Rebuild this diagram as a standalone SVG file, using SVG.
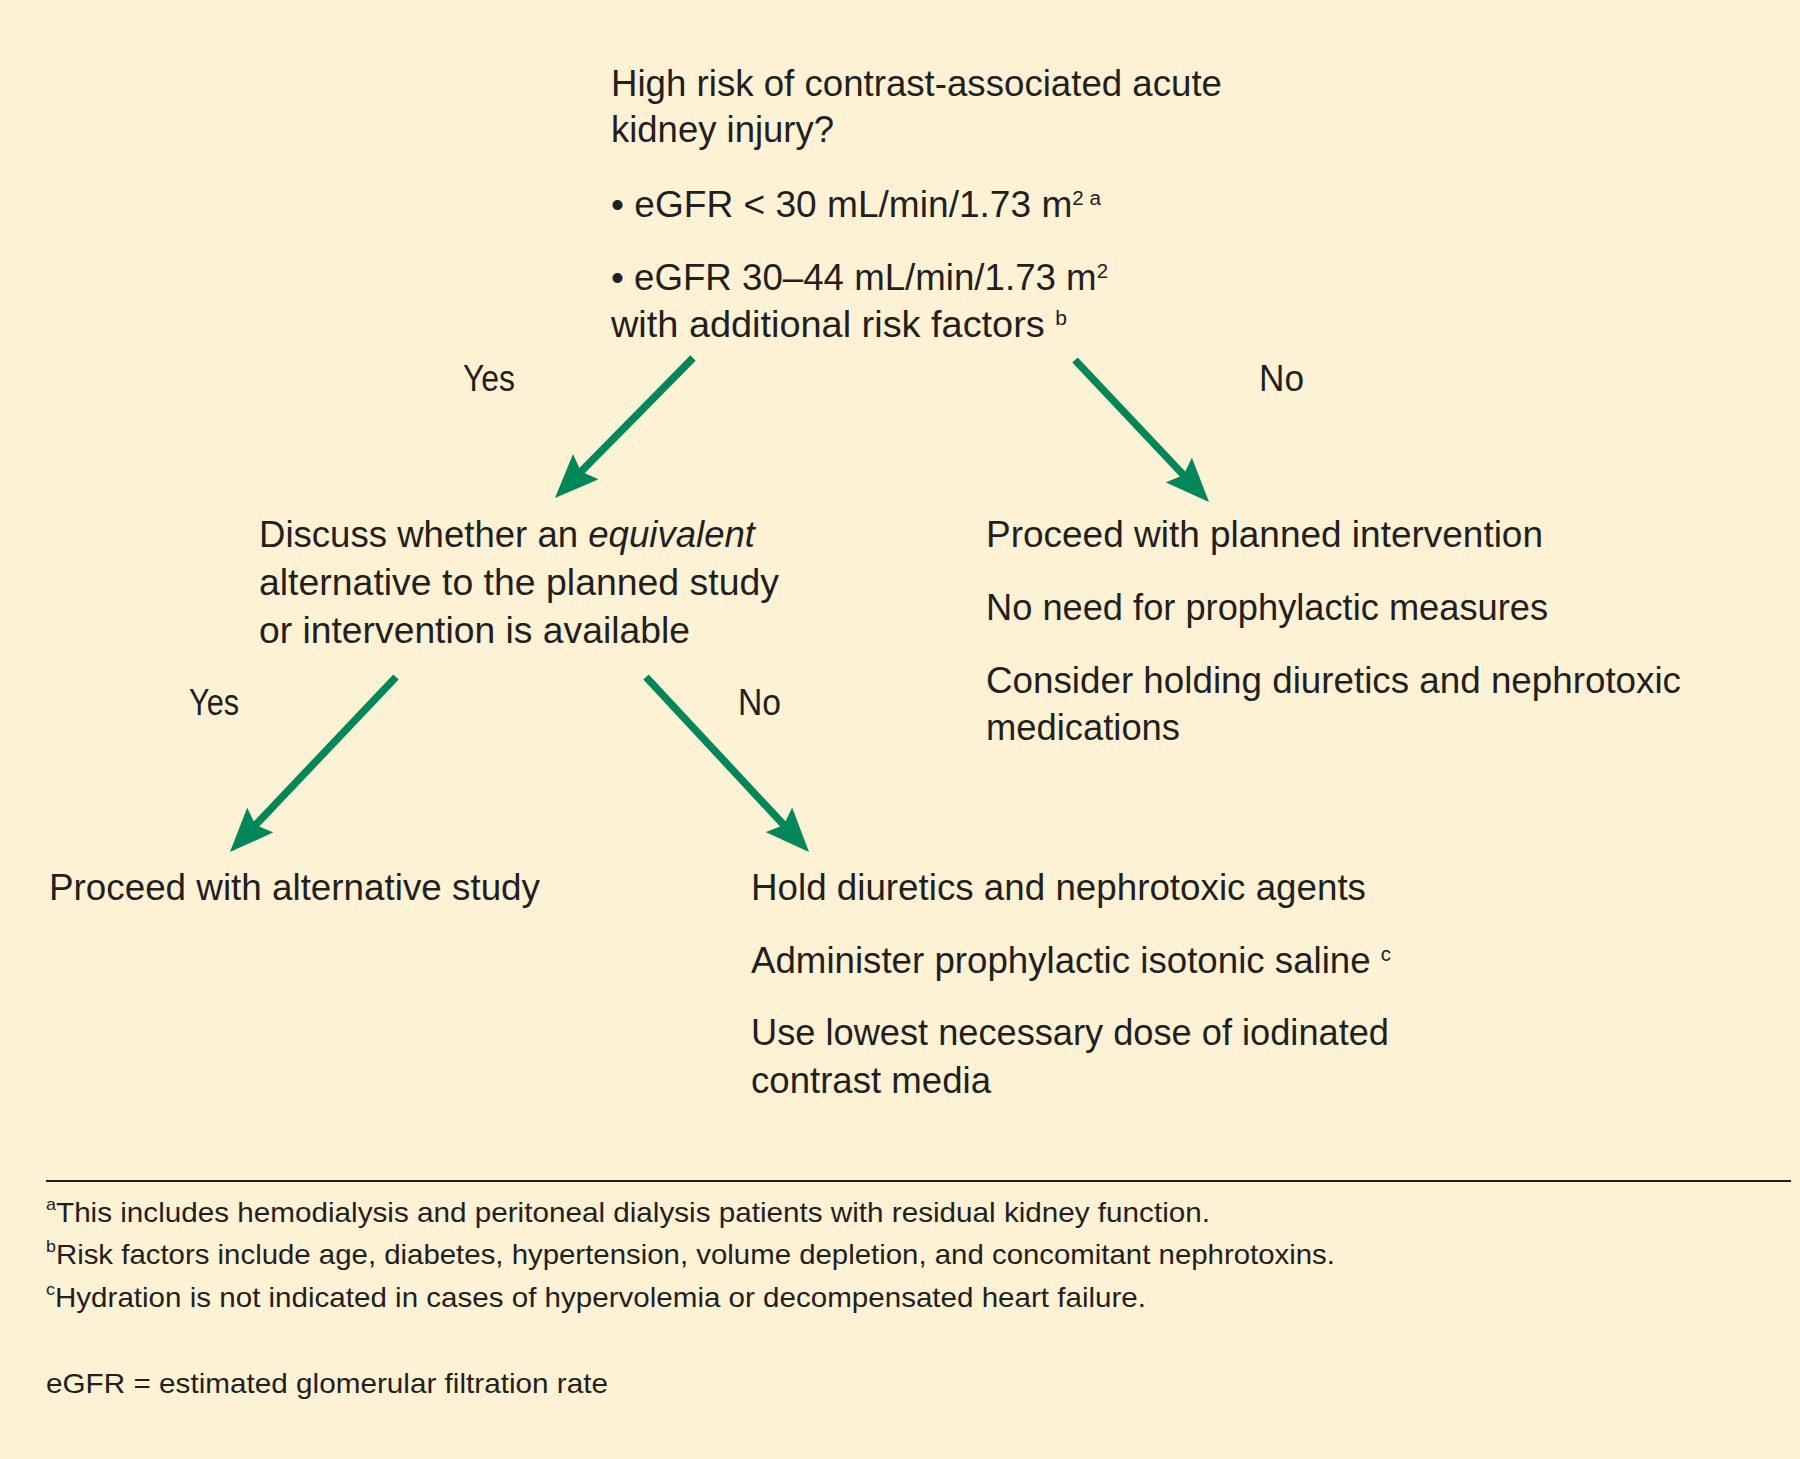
<svg xmlns="http://www.w3.org/2000/svg" width="1800" height="1459" viewBox="0 0 1800 1459">
<style>
  text { font-family: "Liberation Sans", Arial, sans-serif; fill: #231F20; }
  .m { font-size: 36px; }
  .f { font-size: 28px; }
  .sup { font-size: 20px; }
  .fsup { font-size: 17px; }
  .edge { stroke: #00875A; stroke-width: 7.5; fill: none; marker-end: url(#ah); }
</style>
<defs>
  <marker id="ah" markerUnits="userSpaceOnUse" viewBox="0 0 44 36" refX="22" refY="18" markerWidth="44" markerHeight="36" orient="auto">
    <path d="M0,0 L44,18 L0,36 L7,18 Z" fill="#00875A"/>
  </marker>
</defs>
<rect x="0" y="0" width="1800" height="1459" fill="#FEF2D5"/>

<g id="connectors">
  <line class="edge" x1="693" y1="358" x2="570.4" y2="482.3"/>
  <line class="edge" x1="1075" y1="360" x2="1193.9" y2="486"/>
  <line class="edge" x1="396" y1="677" x2="245.1" y2="836"/>
  <line class="edge" x1="646" y1="677" x2="794" y2="835.9"/>
  <text class="m" x="463" y="391" textLength="52" lengthAdjust="spacingAndGlyphs">Yes</text>
  <text class="m" x="1259" y="391" textLength="45" lengthAdjust="spacingAndGlyphs">No</text>
  <text class="m" x="189" y="715" textLength="50" lengthAdjust="spacingAndGlyphs">Yes</text>
  <text class="m" x="738" y="715" textLength="43" lengthAdjust="spacingAndGlyphs">No</text>
</g>

<g id="node-question">
  <text class="m" x="611" y="96" textLength="611" lengthAdjust="spacingAndGlyphs">High risk of contrast-associated acute</text>
  <text class="m" x="611" y="142" textLength="223" lengthAdjust="spacingAndGlyphs">kidney injury?</text>
  <text class="m" x="611" y="217" textLength="490" lengthAdjust="spacingAndGlyphs">• eGFR &lt; 30 mL/min/1.73 m<tspan class="sup" baseline-shift="12">2 a</tspan></text>
  <text class="m" x="611" y="290" textLength="497" lengthAdjust="spacingAndGlyphs">• eGFR 30–44 mL/min/1.73 m<tspan class="sup" baseline-shift="12">2</tspan></text>
  <text class="m" x="611" y="337" textLength="456" lengthAdjust="spacingAndGlyphs">with additional risk factors <tspan class="sup" baseline-shift="12">b</tspan></text>
</g>

<g id="node-discuss">
  <text class="m" x="259" y="547" textLength="496" lengthAdjust="spacingAndGlyphs">Discuss whether an <tspan font-style="italic">equivalent</tspan></text>
  <text class="m" x="259" y="595" textLength="520" lengthAdjust="spacingAndGlyphs">alternative to the planned study</text>
  <text class="m" x="259" y="643" textLength="431" lengthAdjust="spacingAndGlyphs">or intervention is available</text>
</g>

<g id="node-proceed-planned">
  <text class="m" x="986" y="547" textLength="557" lengthAdjust="spacingAndGlyphs">Proceed with planned intervention</text>
  <text class="m" x="986" y="620" textLength="562" lengthAdjust="spacingAndGlyphs">No need for prophylactic measures</text>
  <text class="m" x="986" y="693" textLength="695" lengthAdjust="spacingAndGlyphs">Consider holding diuretics and nephrotoxic</text>
  <text class="m" x="986" y="740" textLength="194" lengthAdjust="spacingAndGlyphs">medications</text>
</g>

<g id="node-alternative">
  <text class="m" x="49" y="900" textLength="491" lengthAdjust="spacingAndGlyphs">Proceed with alternative study</text>
</g>

<g id="node-hold">
  <text class="m" x="751" y="900" textLength="615" lengthAdjust="spacingAndGlyphs">Hold diuretics and nephrotoxic agents</text>
  <text class="m" x="751" y="973" textLength="640" lengthAdjust="spacingAndGlyphs">Administer prophylactic isotonic saline <tspan class="sup" baseline-shift="12">c</tspan></text>
  <text class="m" x="751" y="1045" textLength="638" lengthAdjust="spacingAndGlyphs">Use lowest necessary dose of iodinated</text>
  <text class="m" x="751" y="1093" textLength="240" lengthAdjust="spacingAndGlyphs">contrast media</text>
</g>

<g id="footer">
  <line x1="46" y1="1181" x2="1791" y2="1181" stroke="#231F20" stroke-width="2"/>
  <text class="f" x="46" y="1222" textLength="1164" lengthAdjust="spacingAndGlyphs"><tspan class="fsup" baseline-shift="12">a</tspan>This includes hemodialysis and peritoneal dialysis patients with residual kidney function.</text>
  <text class="f" x="46" y="1264" textLength="1289" lengthAdjust="spacingAndGlyphs"><tspan class="fsup" baseline-shift="12">b</tspan>Risk factors include age, diabetes, hypertension, volume depletion, and concomitant nephrotoxins.</text>
  <text class="f" x="46" y="1307" textLength="1100" lengthAdjust="spacingAndGlyphs"><tspan class="fsup" baseline-shift="12">c</tspan>Hydration is not indicated in cases of hypervolemia or decompensated heart failure.</text>
  <text class="f" x="46" y="1393" textLength="562" lengthAdjust="spacingAndGlyphs">eGFR = estimated glomerular filtration rate</text>
</g>
</svg>
